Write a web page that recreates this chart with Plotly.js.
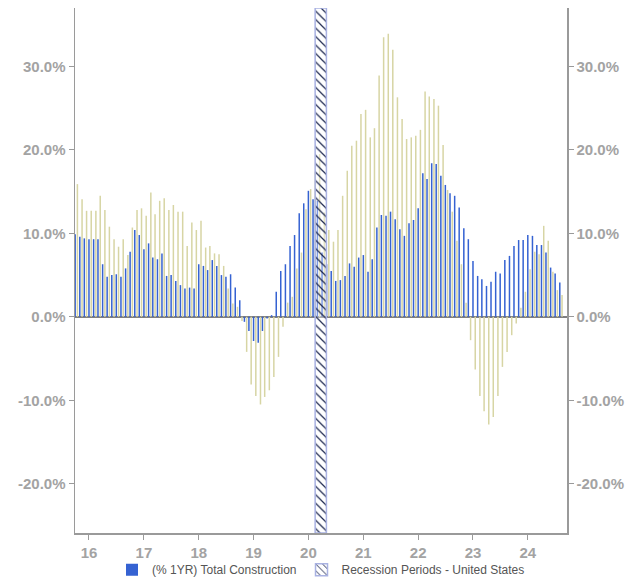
<!DOCTYPE html>
<html>
<head>
<meta charset="utf-8">
<script src="https://cdn.plot.ly/plotly-3.0.1.min.js"></script>
<style>html,body{margin:0;padding:0;background:#fff;}#chart{width:640px;height:579px;}</style>
</head>
<body>
<div id="chart"></div>
<script>
// Monthly observations, Oct 2015 .. Aug 2024
const firstMonth = '2015-10';
const totalConstruction = [
  9.9, 9.6, 9.4, 9.3, 9.3, 9.3, 6.3, 4.8, 5.0, 5.1, 4.8, 5.8,
  7.8, 10.4, 9.8, 8.1, 8.8, 7.1, 6.9, 7.6, 4.9, 5.0, 4.3, 3.8,
  3.4, 3.5, 3.4, 6.3, 6.1, 5.6, 6.8, 6.1, 5.0, 4.8, 5.1, 3.5,
  2.0, -0.6, -1.7, -2.9, -3.1, -1.7, -0.2, 0.2, 3.0, 5.5, 6.3, 8.5,
  9.8, 12.4, 13.6, 15.1, 14.1, 13.9, 7.7, 6.3, 5.5, 4.3, 4.4, 4.9,
  6.4, 6.0, 7.1, 7.4, 5.4, 6.9, 10.7, 12.2, 12.1, 12.6, 11.7, 10.5,
  9.7, 11.2, 11.6, 13.0, 17.2, 16.5, 18.4, 18.3, 16.9, 15.8, 14.8, 14.5,
  13.1, 10.6, 9.3, 6.7, 4.9, 4.5, 3.7, 4.2, 5.4, 5.2, 6.8, 7.3,
  8.5, 9.2, 9.2, 9.8, 9.7, 8.6, 8.6, 7.7, 5.9, 5.2, 4.1
];
const secondSeries = [
  15.9, 14.1, 12.7, 12.7, 12.7, 14.5, 12.8, 10.8, 9.3, 8.4, 9.3, 7.4,
  10.7, 12.8, 13.0, 12.1, 14.9, 12.3, 13.9, 14.2, 12.8, 13.4, 12.6, 12.6,
  8.5, 11.3, 10.4, 11.5, 8.3, 8.5, 7.6, 7.5, 6.1, 3.4, 1.6, 1.2,
  -0.5, -4.2, -8.1, -9.5, -10.5, -9.6, -8.8, -7.2, -4.8, -1.2, 1.7, 2.4,
  5.8, 7.7, 12.9, 15.3, 17.4, 19.5, 12.5, 10.4, 9.0, 10.4, 14.5, 17.5,
  20.5, 21.1, 24.3, 24.8, 21.5, 22.6, 28.9, 33.5, 33.9, 32.0, 26.3, 23.7,
  21.3, 21.5, 21.7, 22.4, 27.0, 26.4, 26.1, 25.3, 20.6, 15.2, 12.6, 9.1,
  6.3, 1.7, -2.8, -6.3, -9.5, -11.3, -12.9, -12.0, -9.5, -6.0, -4.2, -2.2,
  -0.8, 1.1, 3.0, 5.7, 7.8, 7.5, 10.9, 9.1, 5.4, 3.2, 2.6
];
const recessionStart = ['2020-02-15'];
const recessionEnd = ['2020-04-30'];
const yTickVals = [-20, -10, 0, 10, 20, 30];
const yTickText = ['-20.0%', '-10.0%', '0.0%', '10.0%', '20.0%', '30.0%'];
const seriesNames = ['(% 1YR) Total Construction', 'Recession Periods - United States'];

// month dates
const months = [];
{
  let y = +firstMonth.slice(0, 4), m = +firstMonth.slice(5, 7);
  for (let i = 0; i < totalConstruction.length; i++) {
    months.push(y + '-' + String(m).padStart(2, '0') + '-01');
    m++; if (m > 12) { m = 1; y++; }
  }
}

const DAY = 86400000;
const yRange = [-25.9, 37];
const FONT = 'Liberation Sans, Arial, sans-serif';
const tickFont = {family: FONT, size: 15, color: '#a3a3a3', weight: 'bold'};

const blueTrace = {
  type: 'bar', x: months, y: totalConstruction, name: seriesNames[0],
  width: 10 * DAY, offset: -5 * DAY,
  marker: {color: '#3562d2', line: {width: 0}}, hoverinfo: 'skip'
};
const khakiTrace = {
  type: 'bar', x: months, y: secondSeries, name: 'series2', showlegend: false,
  width: 10 * DAY, offset: 10 * DAY,
  marker: {color: '#d7d5a4', line: {width: 0}}, hoverinfo: 'skip'
};
const recTrace = {
  type: 'bar', name: seriesNames[1],
  x: recessionStart.map((s, i) => (Date.parse(s) + Date.parse(recessionEnd[i])) / 2),
  width: recessionStart.map((s, i) => Date.parse(recessionEnd[i]) - Date.parse(s)),
  base: recessionStart.map(() => yRange[0]),
  y: recessionStart.map(() => yRange[1] - yRange[0]),
  marker: {
    color: 'rgba(255,255,255,0.35)',
    line: {color: '#a9b2e2', width: 1.5},
    pattern: {shape: '\\', fgcolor: '#1e2850', bgcolor: 'rgba(255,255,255,0.35)', size: 6, solidity: 0.2}
  },
  hoverinfo: 'skip'
};
// invisible carrier so that the right-hand axis is drawn
const rightAxisCarrier = {
  type: 'scatter', mode: 'markers', x: [months[0]], y: [null], yaxis: 'y2',
  showlegend: false, hoverinfo: 'skip', marker: {opacity: 0}
};

const yCommon = {
  range: yRange, tickmode: 'array', tickvals: yTickVals, ticktext: yTickText,
  showline: true, linecolor: '#9a9a9a', linewidth: 1.5,
  ticks: 'outside', ticklen: 5, tickcolor: '#9a9a9a', tickwidth: 1,
  showgrid: false, tickfont: tickFont, fixedrange: true, automargin: false
};

const layout = {
  width: 640, height: 579,
  margin: {l: 75, r: 73, t: 8, b: 46, pad: 0, autoexpand: false},
  paper_bgcolor: '#ffffff', plot_bgcolor: '#ffffff',
  barmode: 'overlay',
  showlegend: true,
  legend: {orientation: 'h', x: 0.5, xanchor: 'center', y: -0.07, yanchor: 'middle',
           font: {family: FONT, size: 12, color: '#555555'}, bgcolor: 'rgba(0,0,0,0)'},
  xaxis: {
    type: 'date', range: ['2015-09-30', '2024-09-18'],
    tick0: '2016-01-01', dtick: 'M12', tickformat: '%y',
    showline: true, linecolor: '#9a9a9a', linewidth: 1.5,
    ticks: 'outside', ticklen: 5, tickcolor: '#9a9a9a',
    showgrid: false, zeroline: false, tickfont: tickFont, fixedrange: true, automargin: false
  },
  yaxis: Object.assign({}, yCommon, {zeroline: true, zerolinecolor: '#7f7f7f', zerolinewidth: 2}),
  yaxis2: Object.assign({}, yCommon, {overlaying: 'y', side: 'right', zeroline: false})
};

Plotly.newPlot('chart', [blueTrace, khakiTrace, recTrace, rightAxisCarrier], layout, {displayModeBar: false, staticPlot: true});
</script>
</body>
</html>
